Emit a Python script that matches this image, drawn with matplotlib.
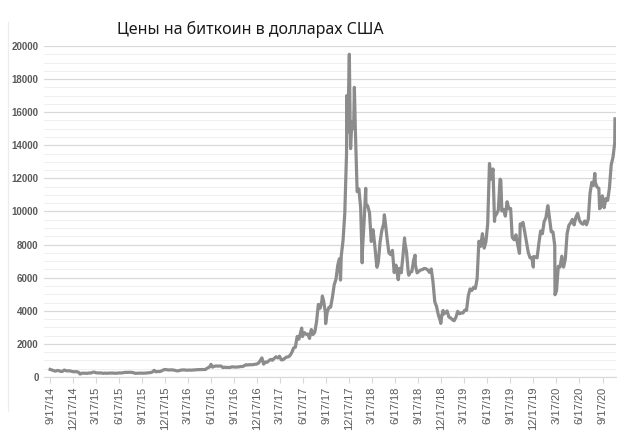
import pandas as pd
import matplotlib
matplotlib.use("Agg")
import matplotlib.pyplot as plt
from matplotlib.lines import Line2D

# weekly prices (Wednesdays), USD
prices_2014 = [457, 423, 383, 353, 394, 383, 336, 339, 423, 380, 367, 375, 346, 319, 322, 320]
prices_2015 = [294, 178, 228, 233, 227, 220, 244, 238, 281, 296, 256, 246, 247, 245, 219, 235,
               225, 229, 242, 234, 237, 225, 229, 249, 241, 258, 270, 285, 277, 288, 281, 267,
               226, 225, 227, 238, 229, 230, 236, 246, 253, 269, 304, 403, 311, 335, 328, 359,
               417, 454, 443, 426]
prices_2016 = [431, 432, 419, 395, 369, 381, 416, 423, 432, 412, 416, 418, 414, 422, 424, 441,
               446, 446, 450, 453, 449, 537, 581, 694, 597, 640, 671, 655, 665, 655, 566, 592,
               574, 580, 575, 614, 609, 597, 604, 612, 636, 630, 678, 742, 723, 744, 740, 746,
               769, 780, 834, 975]
prices_2017 = [1154, 777, 904, 894, 989, 1061, 1011, 1126, 1222, 1150, 1254, 1039, 1041, 1133,
               1203, 1217, 1310, 1486, 1756, 1802, 2446, 2286, 2714, 2442, 2689, 2585, 2601,
               2330, 2866, 2566, 2710, 3342, 4384, 4151, 4595, 4599, 3882, 3905, 4208, 4225,
               4829, 5572, 5904, 6750, 7144, 7315, 8233, 9888, 13540, 16408, 15561, 15416]
prices_2018 = [15000, 14900, 11200, 11360, 10220, 7620, 9500, 10460, 10330, 9930, 8190, 8900,
               7950, 6810, 6940, 8160, 8860, 9240, 9310, 8350, 7500, 7390, 7650, 6310, 6760,
               6090, 6570, 6300, 7350, 8170, 7540, 6280, 6320, 6370, 7050, 6760, 6290, 6390,
               6470, 6490, 6560, 6540, 6470, 6320, 6530, 5740, 4550, 4260, 3760, 3440, 3740,
               3800]
prices_2019 = [3880, 3990, 3620, 3570, 3460, 3400, 3610, 3970, 3820, 3870, 3870, 4040, 4030,
               4910, 5320, 5230, 5420, 5350, 5940, 8200, 7900, 8660, 7790, 8170, 9270, 12900,
               11960, 12570, 9670, 9850, 10080, 11950, 10030, 10130, 9720, 10590, 10160, 10180,
               8430, 8290, 8590, 8000, 7470, 9170, 9340, 8760, 8120, 7520, 7200, 7220, 7280,
               7250]
prices_2020 = [7200, 8080, 8820, 8660, 9390, 9620, 10330, 9600, 8780, 8760, 7940, 5200, 6690,
               6640, 7300, 6640, 7130, 8660, 9160, 9310, 9520, 9190, 9670, 9890, 9460, 9300,
               9230, 9430, 9200, 9530, 11100, 11760, 11570, 11750, 11470, 11400, 10240, 10950,
               10230, 10780, 10670, 11430, 12820, 13270, 14150]
week_starts = ["2014-09-17", "2015-01-07", "2016-01-06", "2017-01-04",
               "2018-01-03", "2019-01-02", "2020-01-01"]

# daily highs/lows between the weekly samples
spike_dates = ["2016-06-16", "2017-06-11", "2017-09-01", "2017-09-14", "2017-11-07",
               "2017-11-12", "2017-12-07", "2017-12-10", "2017-12-17", "2017-12-22",
               "2018-01-06", "2018-02-06", "2018-02-20", "2018-04-06", "2018-05-05",
               "2018-06-29", "2018-07-24", "2018-08-10", "2018-09-04", "2018-12-15",
               "2018-12-24", "2019-07-16", "2019-08-10", "2019-09-24", "2019-10-26",
               "2019-12-17", "2020-02-13", "2020-03-12", "2020-08-17", "2020-09-05",
               "2020-11-05"]
spike_prices = [766, 2958, 4892, 3226, 7118, 5857, 17000, 14800, 19500, 13800,
                17500, 6900, 11400, 6630, 9800, 5880, 8400, 6150, 7360, 3240,
                4020, 9400, 11900, 8500, 9250, 6640, 10350, 4970, 12300, 10170,
                15600]

tick_labels = ["9/17/14", "12/17/14", "3/17/15", "6/17/15", "9/17/15", "12/17/15",
               "3/17/16", "6/17/16", "9/17/16", "12/17/16", "3/17/17", "6/17/17",
               "9/17/17", "12/17/17", "3/17/18", "6/17/18", "9/17/18", "12/17/18",
               "3/17/19", "6/17/19", "9/17/19", "12/17/19", "3/17/20", "6/17/20", "9/17/20"]

title = "Цены на биткоин в долларах США"

# build the series
blocks = [prices_2014, prices_2015, prices_2016, prices_2017,
          prices_2018, prices_2019, prices_2020]
parts = []
for start, vals in zip(week_starts, blocks):
    idx = pd.date_range(start, periods=len(vals), freq="7D")
    parts.append(pd.Series(vals, index=idx))
parts.append(pd.Series(spike_prices, index=pd.to_datetime(spike_dates)))
btc = pd.concat(parts).sort_index()
btc = btc[~btc.index.duplicated(keep="last")]

fig = plt.figure(figsize=(6.39, 4.47), dpi=100)
ax = fig.add_axes([0.069, 0.1566, 0.895, 0.7405])

ax.plot(btc.index, btc.values, color="#8c8c8c", lw=2.3, solid_joinstyle="round")

ax.set_ylim(0, 20000)
ax.set_xlim(pd.Timestamp("2014-08-24"), pd.Timestamp("2020-11-09"))
ax.set_yticks(range(0, 20001, 2000))
ax.set_yticks(range(0, 20001, 500), minor=True)
ax.grid(axis="y", which="major", color="#d9d9d9", lw=0.9)
ax.grid(axis="y", which="minor", color="#efefef", lw=0.7)
ax.set_axisbelow(True)

ticks = pd.to_datetime(tick_labels, format="%m/%d/%y")
ax.set_xticks(ticks)
ax.set_xticklabels(tick_labels, rotation=90, fontsize=8, color="#595959",
                   family="Liberation Sans")
ax.tick_params(axis="x", which="both", length=4, color="#d9d9d9", pad=3)
ax.tick_params(axis="y", which="both", length=0, pad=4)
for lab in ax.get_yticklabels():
    lab.set_fontsize(7)
    lab.set_color("#595959")
    lab.set_fontweight("bold")
    lab.set_family("Liberation Sans")

for s in ["top", "right", "left"]:
    ax.spines[s].set_visible(False)
ax.spines["bottom"].set_color("#d9d9d9")

fig.text(0.391, 0.933, title, ha="center", va="center", fontsize=11.5,
         family="Noto Sans", color="#1a1a1a")
fig.add_artist(Line2D([0.0125, 0.0125], [0.08, 0.95], color="#ececec", lw=0.8))

fig.savefig("out.png", dpi=100)
